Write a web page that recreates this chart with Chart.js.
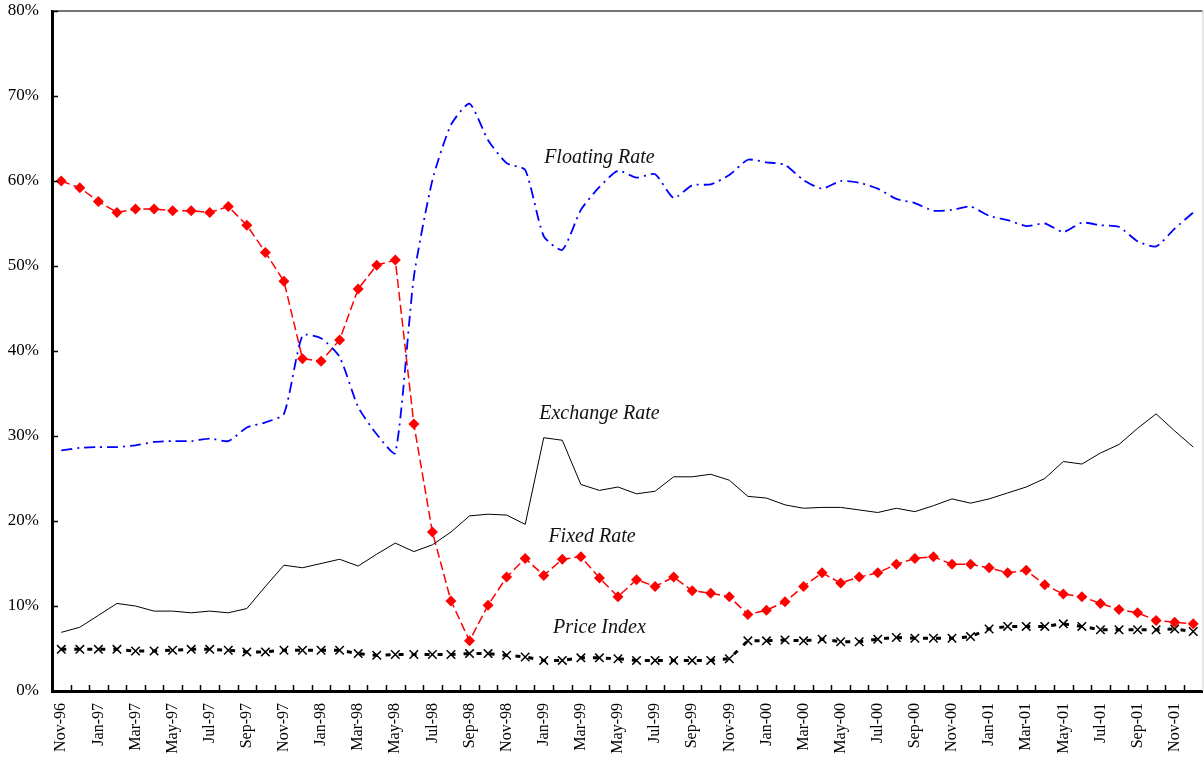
<!DOCTYPE html>
<html>
<head>
<meta charset="utf-8">
<script src="https://cdn.jsdelivr.net/npm/chart.js@4/dist/chart.umd.min.js"></script>
<style>
    body { margin: 0; background: #fff; overflow: hidden; }
    .wrap { width: 1204px; height: 759px; position: relative; }
</style>
</head>
<body>
<div class="wrap"><canvas id="myChart"></canvas></div>
<script>
// months Nov-96 .. Dec-01
const months = ['Nov-96','Dec-96',
    'Jan-97','Feb-97','Mar-97','Apr-97','May-97','Jun-97','Jul-97','Aug-97','Sep-97','Oct-97','Nov-97','Dec-97',
    'Jan-98','Feb-98','Mar-98','Apr-98','May-98','Jun-98','Jul-98','Aug-98','Sep-98','Oct-98','Nov-98','Dec-98',
    'Jan-99','Feb-99','Mar-99','Apr-99','May-99','Jun-99','Jul-99','Aug-99','Sep-99','Oct-99','Nov-99','Dec-99',
    'Jan-00','Feb-00','Mar-00','Apr-00','May-00','Jun-00','Jul-00','Aug-00','Sep-00','Oct-00','Nov-00','Dec-00',
    'Jan-01','Feb-01','Mar-01','Apr-01','May-01','Jun-01','Jul-01','Aug-01','Sep-01','Oct-01','Nov-01','Dec-01'];

const floatingRate = [28.3,28.6,28.7,28.7,28.9,29.3,29.4,29.4,29.7,29.4,31.0,31.6,32.6,41.8,41.5,39.3,
    33.4,30.2,28.0,48.7,60.1,66.6,69.1,64.8,62.1,61.3,53.5,51.9,56.6,59.3,61.2,60.4,60.8,58.0,59.5,59.6,
    60.7,62.5,62.2,61.9,60.1,59.1,60.0,59.8,59.1,57.9,57.4,56.5,56.6,57.0,55.9,55.4,54.7,55.0,54.0,55.1,
    54.8,54.6,52.9,52.3,54.4,56.3];

const exchangeRate = [6.9,7.5,8.9,10.3,10.0,9.4,9.4,9.2,9.4,9.2,9.7,12.3,14.8,14.5,15.0,15.5,
    14.7,16.1,17.4,16.4,17.2,18.7,20.6,20.8,20.7,19.6,29.8,29.5,24.3,23.6,24.0,23.2,23.5,25.2,25.2,25.5,
    24.8,22.9,22.7,21.9,21.5,21.6,21.6,21.3,21.0,21.5,21.1,21.8,22.6,22.1,22.6,23.3,24.0,25.0,27.0,26.7,
    28.0,29.0,30.9,32.6,30.6,28.7];

const fixedRate = [60.0,59.2,57.6,56.3,56.7,56.7,56.5,56.5,56.3,57.0,54.8,51.6,48.2,39.1,38.8,41.3,
    47.3,50.1,50.7,31.4,18.7,10.6,5.9,10.1,13.4,15.6,13.6,15.5,15.8,13.3,11.1,13.1,12.3,13.4,11.8,11.5,
    11.1,9.0,9.5,10.5,12.3,13.9,12.7,13.4,13.9,14.9,15.6,15.8,14.9,14.9,14.5,13.9,14.2,12.5,11.4,11.1,
    10.3,9.6,9.2,8.3,8.1,7.9];

const priceIndex = [4.9,4.9,4.9,4.9,4.7,4.7,4.8,4.9,4.9,4.8,4.6,4.6,4.8,4.8,4.8,4.8,
    4.4,4.2,4.3,4.3,4.3,4.3,4.4,4.4,4.2,4.0,3.6,3.6,3.9,3.9,3.8,3.6,3.6,3.6,3.6,3.6,
    3.8,5.9,5.9,6.0,5.9,6.1,5.8,5.8,6.1,6.3,6.2,6.2,6.2,6.4,7.3,7.6,7.6,7.6,7.9,7.6,
    7.2,7.2,7.2,7.2,7.3,7.0];

const yTicks = [0, 10, 20, 30, 40, 50, 60, 70, 80];

// series captions written on the plot (month index, value)
const captions = [
    { text: 'Floating Rate', at: 29, value: 62.7 },
    { text: 'Exchange Rate', at: 29, value: 32.6 },
    { text: 'Fixed Rate', at: 28.6, value: 18.2 },
    { text: 'Price Index', at: 29, value: 7.4 }
];

const serif = "'Liberation Serif', 'Times New Roman', serif";
const plotRight = 1202;

// inner tick marks, frame and captions
const framePlugin = {
    id: 'frame',
    afterDraw(chart) {
        const ctx = chart.ctx, a = chart.chartArea;
        const x = chart.scales.x, y = chart.scales.y;
        ctx.save();
        // top and right border
        ctx.strokeStyle = '#444';
        ctx.lineWidth = 1.5;
        ctx.beginPath();
        ctx.moveTo(a.left, a.top);
        ctx.lineTo(a.right, a.top);
        ctx.stroke();
        ctx.strokeStyle = '#ccc';
        ctx.lineWidth = 1;
        ctx.beginPath();
        ctx.moveTo(a.right + 0.5, a.top);
        ctx.lineTo(a.right + 0.5, a.bottom);
        ctx.stroke();

        ctx.strokeStyle = '#000';
        ctx.lineWidth = 1.5;
        ctx.beginPath();
        yTicks.forEach(v => {
            let py = Math.round(y.getPixelForValue(v)) + 0.5;
            ctx.moveTo(a.left, py);
            ctx.lineTo(a.left + 6, py);
        });
        for (let i = 0; i < months.length - 1; i++) {
            let px = Math.round((x.getPixelForValue(i) + x.getPixelForValue(i + 1)) / 2) + 0.5;
            ctx.moveTo(px, a.bottom);
            ctx.lineTo(px, a.bottom - 6);
        }
        ctx.stroke();

        ctx.fillStyle = '#111';
        ctx.font = 'italic 20px ' + serif;
        ctx.textAlign = 'center';
        ctx.textBaseline = 'middle';
        captions.forEach(c => {
            ctx.fillText(c.text, x.getPixelForValue(c.at), y.getPixelForValue(c.value));
        });
        ctx.restore();
    }
};

const wrap = document.querySelector('.wrap');
const ctx = document.getElementById('myChart').getContext('2d');
const myChart = new Chart(ctx, {
    type: 'line',
    data: {
        labels: months,
        datasets: [
            {
                label: 'Floating Rate',
                data: floatingRate,
                borderColor: '#0000ff',
                borderWidth: 1.8,
                borderDash: [11, 5, 2, 5],
                pointRadius: 0,
                tension: 0.2
            },
            {
                label: 'Exchange Rate',
                data: exchangeRate,
                borderColor: '#000',
                borderWidth: 1,
                pointRadius: 0
            },
            {
                label: 'Fixed Rate',
                data: fixedRate,
                borderColor: '#ff0000',
                borderWidth: 1.5,
                borderDash: [9, 4],
                pointStyle: 'rectRot',
                pointRadius: 5.5,
                pointBackgroundColor: '#ff0000',
                pointBorderColor: '#ff0000',
                pointBorderWidth: 0
            },
            {
                label: 'Price Index',
                data: priceIndex,
                borderColor: '#000',
                borderWidth: 3,
                borderDash: [5, 8],
                pointStyle: 'crossRot',
                pointRadius: 6,
                pointBorderColor: '#000',
                pointBorderWidth: 1.5
            }
        ]
    },
    options: {
        responsive: true,
        maintainAspectRatio: false,
        animation: false,
        layout: { padding: { top: 11, right: 0, left: 0, bottom: 0 } },
        plugins: {
            legend: { display: false },
            tooltip: { enabled: false }
        },
        scales: {
            x: {
                offset: true,
                grid: { display: false, drawTicks: false },
                border: { color: '#000', width: 3 },
                afterFit: s => { s.height = 68; s.paddingLeft = 0; s.paddingRight = 0; },
                ticks: {
                    autoSkip: false,
                    minRotation: 90,
                    maxRotation: 90,
                    padding: 12,
                    color: '#000',
                    font: { family: serif, size: 16 },
                    callback: function(v, i) { return i % 2 === 0 ? months[i] : ''; }
                }
            },
            y: {
                min: 0,
                max: 80,
                grid: { display: false, drawTicks: false },
                border: { color: '#000', width: 3 },
                afterFit: s => { s.width = 52; s.paddingTop = 0; s.paddingBottom = 0; },
                afterBuildTicks: s => { s.ticks = yTicks.map(v => ({ value: v })); },
                ticks: {
                    padding: 13,
                    color: '#000',
                    font: { family: serif, size: 17 },
                    callback: v => v + '%'
                }
            }
        }
    },
    plugins: [framePlugin]
});

// the layout keeps a few px on the right; widen the canvas so the plot ends at plotRight
let extra = Math.round(plotRight - myChart.chartArea.right);
if (extra > 0) {
    wrap.style.width = (1204 + extra) + 'px';
    myChart.resize(1204 + extra, 759);
}
</script>
</body>
</html>
